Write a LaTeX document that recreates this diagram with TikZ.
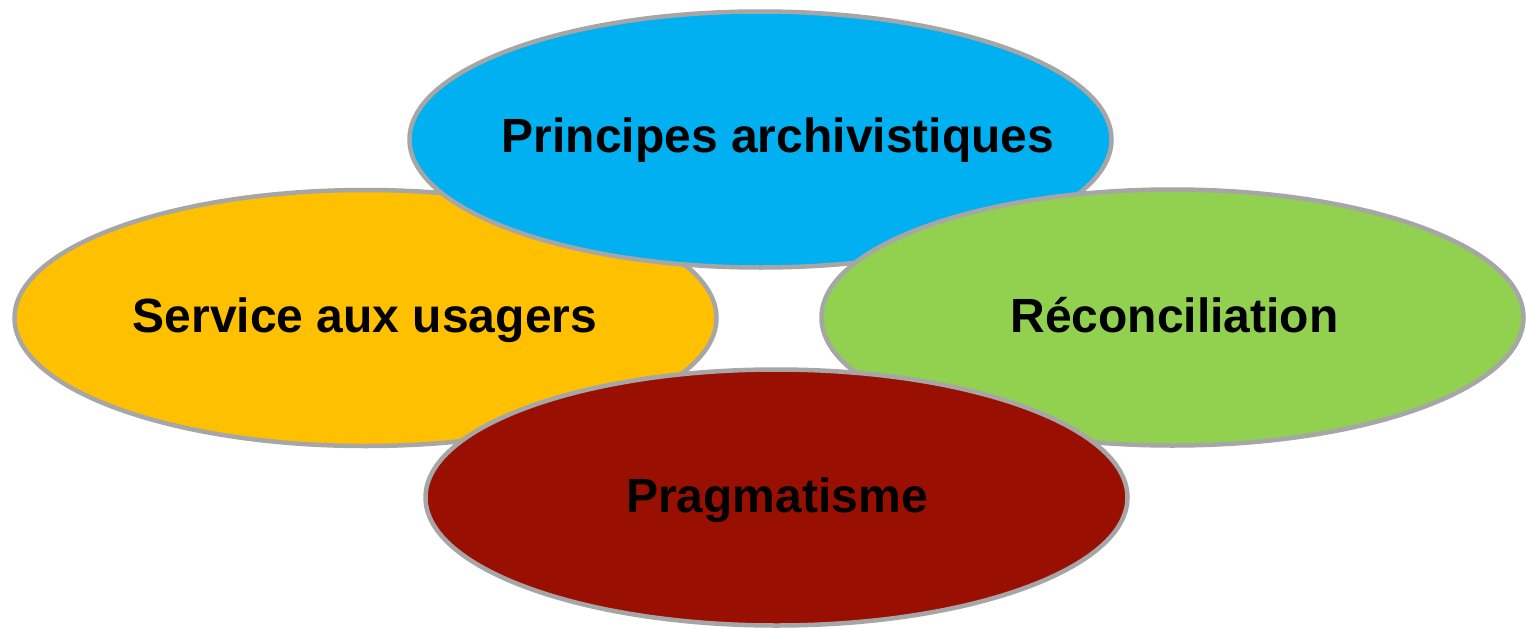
\documentclass[tikz,border=0pt]{standalone}
\usepackage{fontspec}
\setmainfont{Liberation Sans}
\usetikzlibrary{shapes.geometric}
\definecolor{cblue}{HTML}{00B0F0}
\definecolor{cyellow}{HTML}{FFC000}
\definecolor{cgreen}{HTML}{92D050}
\definecolor{cred}{HTML}{990F02}
\definecolor{cgray}{HTML}{A6A6A6}
\begin{document}
\begin{tikzpicture}[x=1pt,y=-1pt,
  petal/.style={ellipse, draw=cgray, line width=4.5pt, minimum width=702pt, minimum height=256pt, inner sep=0pt},
  lbl/.style={anchor=base, inner sep=0pt, font=\fontsize{48}{56}\selectfont\bfseries, text=black}]
\useasboundingbox (0,0) rectangle (1526,629);
\node[petal, fill=cyellow] (yel) at (365.5,318) {};
\node[petal, fill=cblue] (blu) at (760.5,139.5) {};
\node[petal, fill=cgreen] (grn) at (1172.5,317.5) {};
\node[petal, fill=cred] (red) at (776.5,497.5) {};
\node[lbl] (tb) at (778,152) {Principes archivistiques};
\node[lbl] (ty) at (365,332) {Service aux usagers};
\node[lbl] (tg) at (1174.5,332) {Réconciliation};
\node[lbl] (tr) at (777,512) {Pragmatisme};
\end{tikzpicture}
\end{document}
